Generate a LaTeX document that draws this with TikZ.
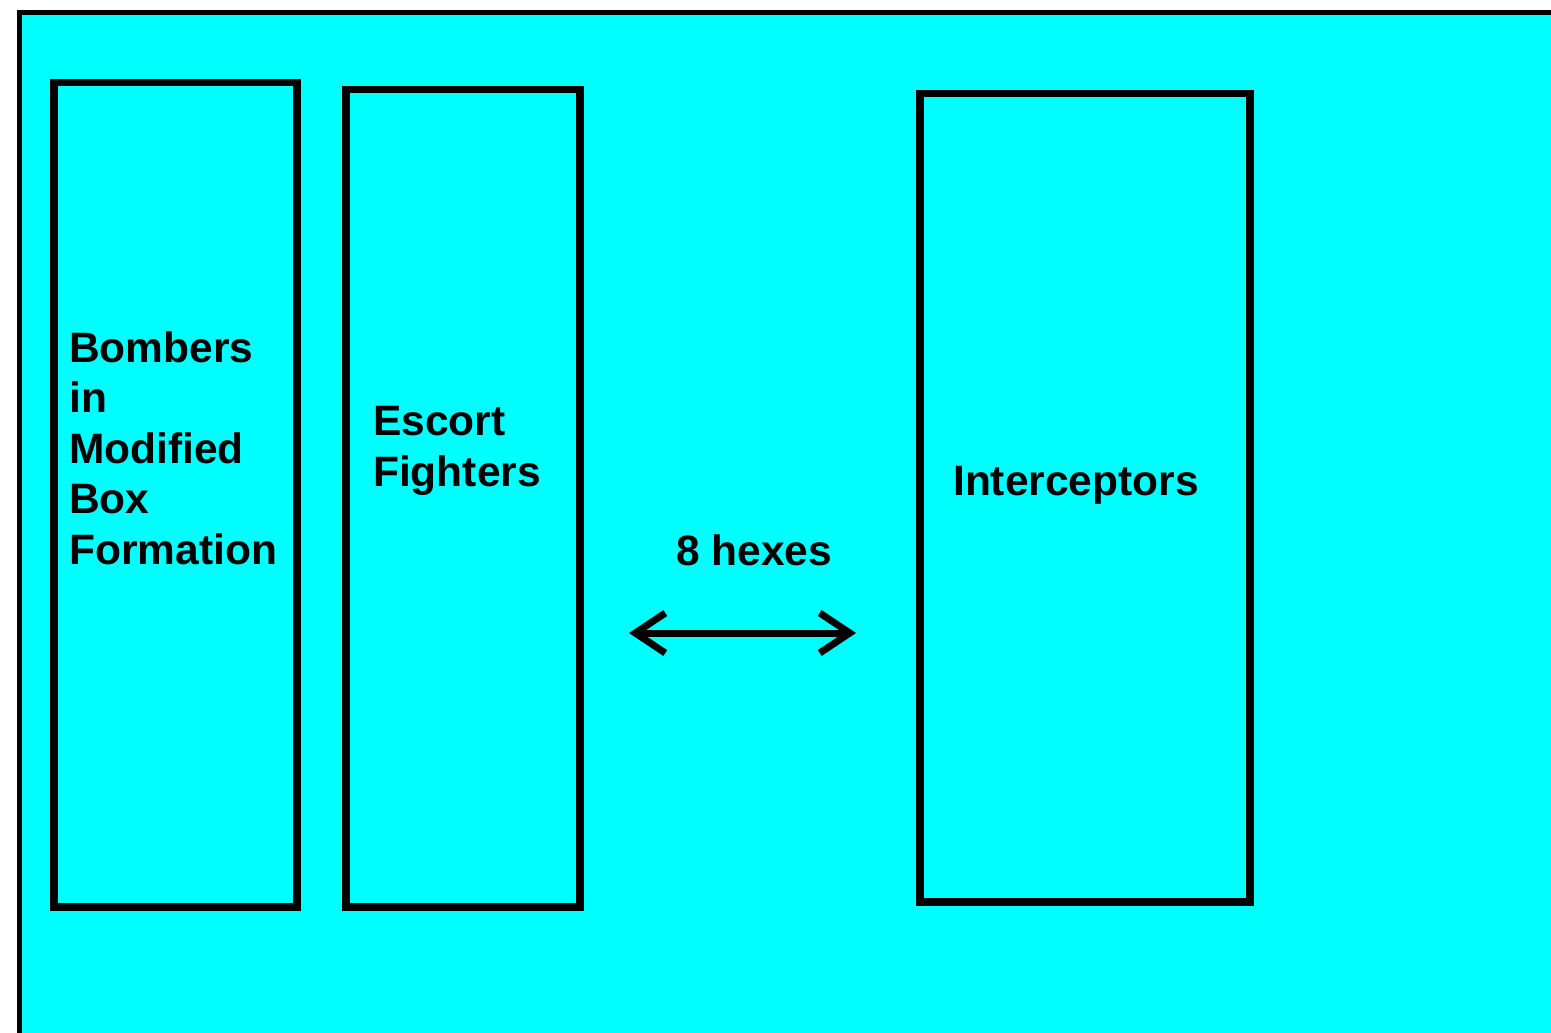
\documentclass[tikz,border=0pt]{standalone}
\usepackage{fontspec}
\setmainfont{Liberation Sans}
\usetikzlibrary{arrows.meta}
\definecolor{aqua}{RGB}{0,255,255}

\begin{document}
\begin{tikzpicture}[x=1pt, y=-1pt,
		unitbox/.style={draw=black, line width=7.5pt, minimum width=#1, inner sep=0pt},
		unitlabel/.style={anchor=base west, inner sep=0pt, align=left, font=\fontsize{42.5}{50.5}\selectfont\bfseries}]
	\useasboundingbox (0,0) rectangle (1551,1033);
	% --- BACKGROUND ---
	\fill[white] (0,0) rectangle (1551,1033);
	\fill[aqua] (22,15) rectangle (1551,1033);
	\draw[line width=5pt] (17,12.5) -- (1551,12.5);
	\draw[line width=5pt] (19.5,10) -- (19.5,1033);
	
	% --- BOXES ---
	\node[unitbox=243pt, minimum height=824pt, anchor=north west] (bombers) at (50,79) {};
	\node[unitbox=234pt, minimum height=817pt, anchor=north west] (escort) at (342,86) {};
	\node[unitbox=330pt, minimum height=808pt, anchor=north west] (interceptors) at (916,90) {};
	
	% --- LABELS ---
	\node[unitlabel] (bomberstext) at (69,564) {Bombers\\in\\Modified\\Box\\Formation};
	\node[unitlabel] (escorttext) at (373,486) {Escort\\Fighters};
	\node[unitlabel] (intertext) at (953,495) {Interceptors};
	\node[unitlabel] (hexes) at (676,565) {8 hexes};
	
	% --- DISTANCE ARROW ---
	\coordinate (gapL) at (629,633);
	\coordinate (gapR) at (856,633);
	\draw[line width=7pt, {Straight Barb[length=30pt,width=40pt]}-{Straight Barb[length=30pt,width=40pt]}] (gapL) -- (gapR);
\end{tikzpicture}
\end{document}
